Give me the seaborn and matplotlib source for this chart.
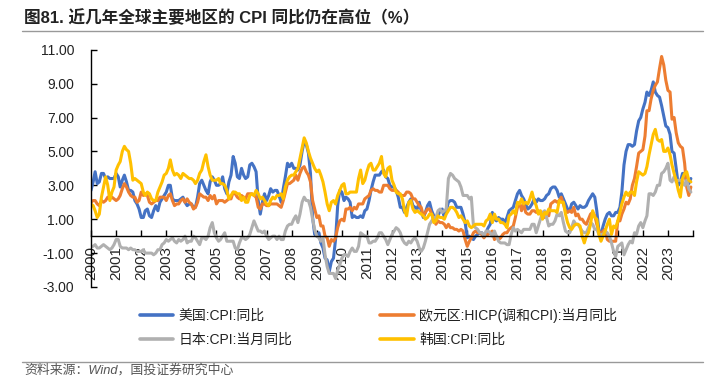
import numpy as np
import pandas as pd
import seaborn as sns
import matplotlib.pyplot as plt
from matplotlib.lines import Line2D

sns.set_theme(style="white")
plt.rcParams['font.family'] = ['Liberation Sans', 'Noto Sans CJK SC', 'DejaVu Sans']
plt.rcParams['axes.unicode_minus'] = False

# monthly YoY, one row per year 2000..2023
us_cpi = [
    [2.7, 3.2, 3.8, 3.1, 3.2, 3.7, 3.7, 3.4, 3.5, 3.4, 3.4, 3.4],
    [3.7, 3.5, 2.9, 3.3, 3.6, 3.2, 2.7, 2.7, 2.6, 2.1, 1.9, 1.6],
    [1.1, 1.1, 1.5, 1.6, 1.2, 1.1, 1.5, 1.8, 1.5, 2.0, 2.2, 2.4],
    [2.6, 3.0, 3.0, 2.2, 2.1, 2.1, 2.1, 2.2, 2.3, 2.0, 1.8, 1.9],
    [1.9, 1.7, 1.7, 2.3, 3.1, 3.3, 3.0, 2.7, 2.5, 3.2, 3.5, 3.3],
    [3.0, 3.0, 3.1, 3.5, 2.8, 2.5, 3.2, 3.6, 4.7, 4.3, 3.5, 3.4],
    [4.0, 3.6, 3.4, 3.5, 4.2, 4.3, 4.1, 3.8, 2.1, 1.3, 2.0, 2.5],
    [2.1, 2.4, 2.8, 2.6, 2.7, 2.7, 2.4, 2.0, 2.8, 3.5, 4.3, 4.1],
    [4.3, 4.0, 4.0, 3.9, 4.2, 5.0, 5.6, 5.4, 4.9, 3.7, 1.1, 0.1],
    [0.0, 0.2, -0.4, -0.7, -1.3, -1.4, -2.1, -1.5, -1.3, -0.2, 1.8, 2.7],
    [2.6, 2.1, 2.3, 2.2, 2.0, 1.1, 1.2, 1.1, 1.1, 1.2, 1.1, 1.5],
    [1.6, 2.1, 2.7, 3.2, 3.6, 3.6, 3.6, 3.8, 3.9, 3.5, 3.4, 3.0],
    [2.9, 2.9, 2.7, 2.3, 1.7, 1.7, 1.4, 1.7, 2.0, 2.2, 1.8, 1.7],
    [1.6, 2.0, 1.5, 1.1, 1.4, 1.8, 2.0, 1.5, 1.2, 1.0, 1.2, 1.5],
    [1.6, 1.1, 1.5, 2.0, 2.1, 2.1, 2.0, 1.7, 1.7, 1.7, 1.3, 0.8],
    [-0.1, 0.0, -0.1, -0.2, 0.0, 0.1, 0.2, 0.2, 0.0, 0.2, 0.5, 0.7],
    [1.4, 1.0, 0.9, 1.1, 1.0, 1.0, 0.8, 1.1, 1.5, 1.6, 1.7, 2.1],
    [2.5, 2.7, 2.4, 2.2, 1.9, 1.6, 1.7, 1.9, 2.2, 2.0, 2.2, 2.1],
    [2.1, 2.2, 2.4, 2.5, 2.8, 2.9, 2.9, 2.7, 2.3, 2.5, 2.2, 1.9],
    [1.6, 1.5, 1.9, 2.0, 1.8, 1.6, 1.8, 1.7, 1.7, 1.8, 2.1, 2.3],
    [2.5, 2.3, 1.5, 0.3, 0.1, 0.6, 1.0, 1.3, 1.4, 1.2, 1.2, 1.4],
    [1.4, 1.7, 2.6, 4.2, 5.0, 5.4, 5.4, 5.3, 5.4, 6.2, 6.8, 7.0],
    [7.5, 7.9, 8.5, 8.3, 8.6, 9.1, 8.5, 8.3, 8.2, 7.7, 7.1, 6.5],
    [6.4, 6.0, 5.0, 4.9, 4.0, 3.0, 3.2, 3.7, 3.7, 3.2, 3.1, 3.4],
]

euro_hicp = [
    [2.0, 2.1, 2.1, 1.9, 1.8, 2.1, 2.0, 2.1, 2.3, 2.2, 2.3, 2.2],
    [2.1, 2.2, 2.4, 2.8, 3.1, 2.9, 2.6, 2.4, 2.3, 2.3, 2.0, 2.1],
    [2.6, 2.4, 2.5, 2.4, 2.0, 1.9, 2.0, 2.1, 2.1, 2.3, 2.3, 2.3],
    [2.1, 2.4, 2.5, 2.1, 1.8, 1.9, 1.9, 2.1, 2.2, 2.0, 2.2, 2.0],
    [1.9, 1.6, 1.7, 2.0, 2.5, 2.4, 2.3, 2.3, 2.1, 2.4, 2.2, 2.4],
    [1.9, 2.1, 2.1, 2.1, 2.0, 2.1, 2.2, 2.2, 2.6, 2.5, 2.3, 2.2],
    [2.4, 2.3, 2.2, 2.5, 2.5, 2.5, 2.4, 2.3, 1.7, 1.6, 1.9, 1.9],
    [1.8, 1.8, 1.9, 1.9, 1.9, 1.9, 1.8, 1.7, 2.1, 2.6, 3.1, 3.1],
    [3.2, 3.3, 3.6, 3.3, 3.7, 4.0, 4.1, 3.8, 3.6, 3.2, 2.1, 1.6],
    [1.1, 1.2, 0.6, 0.6, 0.0, -0.1, -0.6, -0.2, -0.3, -0.1, 0.5, 0.9],
    [1.0, 0.9, 1.6, 1.6, 1.7, 1.5, 1.7, 1.6, 1.9, 1.9, 1.9, 2.2],
    [2.3, 2.4, 2.7, 2.8, 2.7, 2.7, 2.6, 2.6, 3.0, 3.0, 3.0, 2.8],
    [2.7, 2.7, 2.7, 2.6, 2.4, 2.4, 2.4, 2.6, 2.6, 2.5, 2.2, 2.2],
    [2.0, 1.8, 1.7, 1.2, 1.4, 1.6, 1.6, 1.3, 1.1, 0.7, 0.9, 0.8],
    [0.8, 0.7, 0.5, 0.7, 0.5, 0.5, 0.4, 0.4, 0.3, 0.4, 0.3, -0.2],
    [-0.6, -0.3, -0.1, 0.2, 0.3, 0.2, 0.2, 0.1, -0.1, 0.1, 0.1, 0.2],
    [0.3, -0.2, 0.0, -0.2, -0.1, 0.1, 0.2, 0.2, 0.4, 0.5, 0.6, 1.1],
    [1.7, 2.0, 1.5, 1.9, 1.4, 1.3, 1.3, 1.5, 1.5, 1.4, 1.5, 1.3],
    [1.3, 1.1, 1.4, 1.2, 1.9, 2.0, 2.1, 2.0, 2.1, 2.3, 1.9, 1.5],
    [1.4, 1.5, 1.4, 1.7, 1.2, 1.3, 1.0, 1.0, 0.8, 0.7, 1.0, 1.3],
    [1.4, 1.2, 0.7, 0.3, 0.1, 0.3, 0.4, -0.2, -0.3, -0.3, -0.3, -0.3],
    [0.9, 0.9, 1.3, 1.6, 2.0, 1.9, 2.2, 3.0, 3.4, 4.1, 4.9, 5.0],
    [5.1, 5.9, 7.4, 7.4, 8.1, 8.6, 8.9, 9.1, 9.9, 10.6, 10.1, 9.2],
    [8.6, 8.5, 6.9, 7.0, 6.1, 5.5, 5.3, 5.2, 4.3, 2.9, 2.4, 2.9],
]

japan_cpi = [
    [-0.6, -0.6, -0.5, -0.7, -0.7, -0.6, -0.5, -0.6, -0.7, -0.8, -0.7, -0.5],
    [-0.2, -0.2, -0.6, -0.7, -0.7, -0.7, -0.8, -0.7, -0.8, -0.8, -0.9, -0.9],
    [-0.9, -0.8, -1.0, -1.0, -1.0, -1.0, -1.1, -1.0, -0.8, -0.8, -0.5, -0.4],
    [-0.2, -0.3, -0.2, -0.1, -0.3, -0.4, -0.2, -0.3, -0.2, 0.0, -0.4, -0.3],
    [-0.3, 0.0, -0.1, -0.3, -0.5, -0.1, -0.1, -0.2, 0.0, 0.5, 0.8, 0.2],
    [-0.1, -0.3, -0.2, 0.0, 0.2, -0.3, -0.3, -0.3, -0.3, -0.7, -0.8, -0.4],
    [-0.1, -0.1, -0.2, -0.1, 0.1, 0.5, 0.9, 0.6, 0.3, 0.3, 0.2, 0.3],
    [0.0, -0.2, -0.1, 0.0, 0.0, -0.2, 0.0, -0.2, -0.2, 0.3, 0.6, 0.7],
    [0.7, 1.0, 1.2, 0.8, 1.3, 2.0, 2.3, 2.1, 2.1, 1.7, 1.0, 0.4],
    [0.0, -0.1, -0.3, -0.1, -1.1, -1.8, -2.2, -2.2, -2.2, -2.5, -2.0, -1.7],
    [-1.3, -1.1, -1.1, -1.2, -0.9, -0.7, -0.9, -0.9, -0.6, 0.2, 0.1, 0.0],
    [0.0, -0.4, -0.4, -0.3, -0.3, -0.1, 0.2, 0.2, 0.0, -0.2, -0.5, -0.2],
    [0.1, 0.3, 0.5, 0.4, 0.2, -0.2, -0.4, -0.5, -0.3, -0.4, -0.2, -0.1],
    [-0.3, -0.7, -0.9, -0.7, -0.3, 0.2, 0.7, 0.9, 1.1, 1.1, 1.5, 1.6],
    [1.4, 1.5, 1.6, 3.4, 3.7, 3.6, 3.4, 3.3, 3.2, 2.9, 2.4, 2.4],
    [2.4, 2.2, 2.3, 0.6, 0.5, 0.4, 0.2, 0.2, 0.0, 0.3, 0.3, 0.2],
    [0.0, 0.3, 0.0, -0.3, -0.4, -0.4, -0.4, -0.5, -0.5, 0.1, 0.5, 0.3],
    [0.4, 0.3, 0.2, 0.4, 0.4, 0.4, 0.4, 0.7, 0.7, 0.2, 0.6, 1.0],
    [1.4, 1.5, 1.1, 0.6, 0.7, 0.7, 0.9, 1.3, 1.2, 1.4, 0.8, 0.3],
    [0.2, 0.2, 0.5, 0.9, 0.7, 0.7, 0.5, 0.3, 0.2, 0.2, 0.5, 0.8],
    [0.7, 0.4, 0.4, 0.1, 0.1, 0.1, 0.3, 0.2, 0.0, -0.4, -0.9, -1.2],
    [-0.6, -0.5, -0.4, -1.1, -0.8, -0.5, -0.3, -0.4, 0.2, 0.1, 0.6, 0.8],
    [0.5, 0.9, 1.2, 2.5, 2.5, 2.4, 2.6, 3.0, 3.0, 3.7, 3.8, 4.0],
    [4.3, 3.3, 3.2, 3.5, 3.2, 3.3, 3.3, 3.2, 3.0, 3.3, 2.8, 2.6],
]

korea_cpi = [
    [1.9, 1.8, 1.5, 1.1, 1.3, 2.3, 2.9, 3.5, 3.0, 2.1, 2.6, 2.9],
    [3.9, 4.2, 4.4, 5.0, 5.3, 5.1, 5.0, 4.3, 3.3, 3.4, 3.3, 3.2],
    [3.1, 2.6, 2.4, 2.6, 2.5, 2.2, 2.1, 2.1, 2.6, 2.9, 3.2, 3.6],
    [3.7, 4.0, 4.5, 3.9, 3.6, 3.7, 3.6, 3.4, 3.7, 3.6, 3.5, 3.4],
    [3.4, 3.3, 3.1, 3.3, 3.7, 3.9, 4.4, 4.8, 4.1, 3.6, 3.3, 3.3],
    [3.3, 3.4, 3.1, 3.1, 3.0, 2.7, 2.2, 2.4, 2.6, 2.6, 2.5, 2.5],
    [2.1, 2.3, 2.0, 2.0, 2.4, 2.5, 2.4, 2.7, 2.5, 2.2, 2.3, 2.1],
    [1.9, 1.8, 2.1, 2.3, 2.2, 2.4, 2.4, 2.5, 2.2, 2.9, 3.3, 3.5],
    [3.6, 3.6, 3.8, 4.0, 4.6, 5.2, 5.8, 5.5, 5.0, 4.6, 4.3, 4.0],
    [3.8, 3.9, 3.6, 3.2, 2.6, 1.9, 1.5, 2.0, 2.1, 1.9, 2.4, 2.7],
    [3.0, 3.1, 2.5, 2.5, 2.6, 2.6, 2.6, 2.6, 3.4, 3.9, 3.1, 3.3],
    [3.8, 4.2, 4.3, 3.9, 3.9, 4.1, 4.3, 4.7, 3.7, 3.5, 4.0, 4.1],
    [3.3, 3.0, 2.6, 2.5, 2.5, 2.2, 1.5, 1.2, 2.0, 2.1, 1.6, 1.4],
    [1.5, 1.4, 1.3, 1.2, 1.0, 1.1, 1.3, 1.3, 0.8, 0.9, 1.2, 1.1],
    [1.1, 1.0, 1.3, 1.5, 1.7, 1.7, 1.6, 1.4, 1.1, 1.2, 1.0, 0.8],
    [0.9, 0.6, 0.5, 0.6, 0.7, 0.7, 0.7, 0.7, 0.6, 0.9, 1.0, 1.3],
    [0.8, 1.3, 1.0, 1.0, 0.8, 0.8, 0.7, 0.5, 1.2, 1.3, 1.5, 1.3],
    [2.0, 1.9, 2.2, 1.9, 2.0, 1.9, 2.2, 2.6, 2.1, 1.8, 1.3, 1.5],
    [1.0, 1.4, 1.3, 1.6, 1.5, 1.5, 1.5, 1.4, 2.1, 2.0, 2.0, 1.3],
    [0.8, 0.5, 0.4, 0.6, 0.7, 0.7, 0.6, 0.0, -0.4, 0.0, 0.2, 0.7],
    [1.5, 1.1, 1.0, 0.1, -0.3, 0.0, 0.3, 0.7, 1.0, 0.1, 0.6, 0.5],
    [0.9, 1.4, 1.9, 2.3, 2.6, 2.4, 2.6, 2.6, 2.4, 3.2, 3.8, 3.7],
    [3.6, 3.7, 4.1, 4.8, 5.4, 6.0, 6.3, 5.7, 5.6, 5.7, 5.0, 5.0],
    [5.2, 4.8, 4.2, 3.7, 3.3, 2.7, 2.3, 3.4, 3.7, 3.8, 3.3, 3.2],
]

series_names = ['美国:CPI:同比', '欧元区:HICP(调和CPI):当月同比', '日本:CPI:当月同比', '韩国:CPI:同比']
series_colors = ['#4472C4', '#ED7D31', '#B0B0B0', '#FFC000']
year_labels = [str(y) for y in range(2000, 2024)]

months = pd.date_range('2000-01-01', periods=24 * 12, freq='MS')
frames = []
for name, rows in zip(series_names, [us_cpi, euro_hicp, japan_cpi, korea_cpi]):
    frames.append(pd.DataFrame({'date': months, 'value': np.concatenate(rows), 'series': name}))
df = pd.concat(frames, ignore_index=True)

fig = plt.figure(figsize=(7.12, 3.82), dpi=100)
ax = fig.add_axes([91 / 712, 1 - 287 / 382, (693 - 91) / 712, (287 - 49.7) / 382])

sns.lineplot(data=df, x='date', y='value', hue='series', hue_order=series_names,
             palette=series_colors, linewidth=2.2, legend=False, ax=ax)

ax.set_ylim(-3, 11)
ax.set_yticks(np.arange(-3, 12, 2))
ax.set_yticklabels([f'{v:.2f}' for v in np.arange(-3, 12, 2)], fontsize=10, color='#222222')
ax.set_xlim(pd.Timestamp('2000-01-01'), pd.Timestamp('2024-01-01'))
xt = pd.date_range('2000-01-01', '2024-01-01', freq='YS')
ax.set_xticks(xt)
ax.set_xticklabels(year_labels + [''], fontsize=9.5, color='#222222')
ax.set_xlabel('')
ax.set_ylabel('')

for s in ['top', 'right']:
    ax.spines[s].set_visible(False)
ax.spines['bottom'].set_position(('data', 0))
ax.spines['bottom'].set_color('black')
ax.spines['left'].set_color('black')
ax.spines['bottom'].set_linewidth(1)
ax.spines['left'].set_linewidth(1)
ax.tick_params(axis='y', direction='in', length=4, width=1, pad=12, left=True, color='black')
ax.tick_params(axis='x', direction='in', length=4, width=1, pad=7, bottom=True,
               color='black', labelrotation=90)
for lab in ax.get_xticklabels():
    lab.set_rotation(90)
    lab.set_ha('center')
    lab.set_va('top')
ax.grid(False)

handles = [Line2D([], [], color=c, lw=2.6) for c in series_colors]
order = [0, 2, 1, 3]
fig.legend([handles[i] for i in order], [series_names[i] for i in order],
           loc='upper left', bbox_to_anchor=(140 / 712, 1 - 308 / 382), ncol=2,
           frameon=False, fontsize=10, handlelength=2.4, handletextpad=0.4,
           columnspacing=6.3, labelspacing=0.7, borderpad=0, borderaxespad=0,
           labelcolor='#222222')

fig.text(24 / 712, 1 - 18 / 382, '图81. 近几年全球主要地区的 CPI 同比仍在高位（%）',
         fontsize=12, fontweight='bold', va='center', ha='left', color='#222222')
fig.add_artist(Line2D([22 / 712, 703 / 712], [1 - 31 / 382] * 2, color='#999999', lw=1))
fig.add_artist(Line2D([22 / 712, 703 / 712], [1 - 362 / 382] * 2, color='#999999', lw=1))
fig.text(24 / 712, 1 - 370 / 382, '资料来源：Wind，国投证券研究中心',
         fontsize=9.3, style='italic', va='center', ha='left', color='#555555')

fig.savefig('out.png', dpi=100)
